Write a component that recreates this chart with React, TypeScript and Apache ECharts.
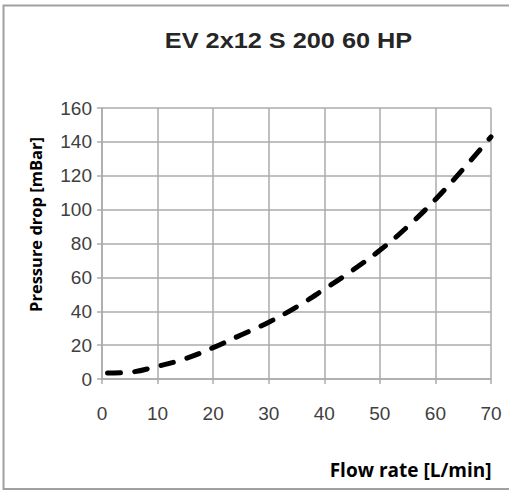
import React, { useEffect, useRef } from "react";
import * as echarts from "echarts";

const chartTitle = "EV 2x12 S 200 60 HP";
const xAxisName = "Flow rate [L/min]";
const yAxisName = "Pressure drop [mBar]";

const flowRates = [1, 5, 10, 15, 20, 25, 30, 35, 40, 45, 50, 55, 60, 65, 70];
const pressureDrops = [3.5, 4, 7.5, 12, 18.5, 26, 33.5, 42.5, 53, 64, 76, 90, 106, 124, 143];

const xTicks = { min: 0, max: 70, interval: 10 };
const yTicks = { min: 0, max: 160, interval: 20 };

export default function App() {
  const ref = useRef<HTMLDivElement>(null);

  useEffect(() => {
    if (!ref.current) return;
    const chart = echarts.init(ref.current, null, { renderer: "svg" });
    const gridColor = "#ababab";
    const labelColor = "#404040";
    chart.setOption({
      animation: false,
      backgroundColor: "#ffffff",
      grid: { left: 102, right: 18, top: 108, bottom: 112, containLabel: false },
      xAxis: {
        type: "value",
        min: xTicks.min,
        max: xTicks.max,
        interval: xTicks.interval,
        axisLine: { show: true, lineStyle: { color: gridColor, width: 1.5 } },
        axisTick: { show: true, inside: false, length: 5, lineStyle: { color: gridColor, width: 1.5 } },
        splitLine: { show: true, lineStyle: { color: gridColor, width: 1.5 } },
        axisLabel: {
          margin: 25,
          color: labelColor,
          fontFamily: "Liberation Sans, Arial, sans-serif",
          fontSize: 19,
        },
      },
      yAxis: {
        type: "value",
        min: yTicks.min,
        max: yTicks.max,
        interval: yTicks.interval,
        axisLine: { show: true, lineStyle: { color: gridColor, width: 1.5 } },
        axisTick: { show: true, inside: false, length: 5, lineStyle: { color: gridColor, width: 1.5 } },
        splitLine: { show: true, lineStyle: { color: gridColor, width: 1.5 } },
        axisLabel: {
          margin: 10,
          color: labelColor,
          fontFamily: "Liberation Sans, Arial, sans-serif",
          fontSize: 19,
        },
      },
      series: [
        {
          type: "line",
          data: flowRates.map((x, i) => [x, pressureDrops[i]]),
          smooth: 0.4,
          showSymbol: false,
          symbol: "none",
          lineStyle: { color: "#000000", width: 5, type: [13, 14], cap: "round" },
        },
      ],
      graphic: [
        {
          type: "polyline",
          shape: { points: [[520, 5.5], [3.5, 5.5], [3.5, 489], [520, 489]] },
          style: { stroke: "#a0a0a0", lineWidth: 2, fill: null },
          silent: true,
        },
        {
          type: "text",
          x: 288.5,
          y: 40.5,
          scaleX: 1.15,
          style: {
            text: chartTitle,
            align: "center",
            verticalAlign: "middle",
            font: "bold 22px 'Liberation Sans', Arial, sans-serif",
            fill: "#262626",
          },
        },
        {
          type: "text",
          x: 35,
          y: 224.5,
          rotation: Math.PI / 2,
          style: {
            text: yAxisName,
            align: "center",
            verticalAlign: "middle",
            font: "bold 16.5px 'Open Sans', sans-serif",
            fill: "#000000",
          },
        },
        {
          type: "text",
          x: 491.5,
          y: 470,
          style: {
            text: xAxisName,
            align: "right",
            verticalAlign: "middle",
            font: "bold 19px 'Open Sans', sans-serif",
            fill: "#000000",
          },
        },
      ],
    });
    return () => chart.dispose();
  }, []);

  return (
    <div
      ref={ref}
      style={{ position: "fixed", left: 0, top: 0, width: 509, height: 491, background: "#fff" }}
    />
  );
}
